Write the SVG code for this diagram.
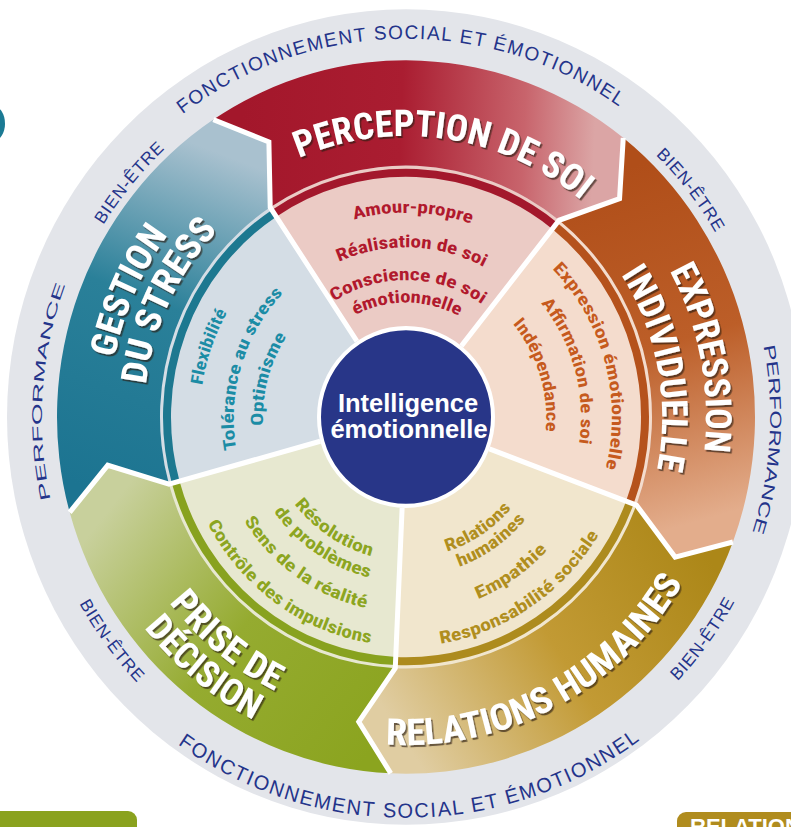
<svg xmlns="http://www.w3.org/2000/svg" width="791" height="827" viewBox="0 0 791 827">
<defs>
<style>
.ring{font-family:'Liberation Sans',Arial,sans-serif;fill:#24348a;}
.ttl{font-family:'Liberation Sans Narrow','Roboto Condensed','DejaVu Sans Condensed','Liberation Sans',sans-serif;font-weight:700;fill:#fff;font-size:36px;filter:url(#sh);}
.wt{font-family:'Liberation Sans Narrow','Roboto Condensed','DejaVu Sans Condensed','Liberation Sans',sans-serif;font-weight:700;font-size:17px;}
.sep{fill:none;stroke:#fff;stroke-width:5;stroke-linejoin:miter;}
.stripe{fill:none;stroke-width:8;}
</style>
<filter id="sh" x="-10%" y="-30%" width="130%" height="170%"><feDropShadow dx="1.6" dy="2" stdDeviation="0.6" flood-color="#2a1a10" flood-opacity="0.65"/></filter>
<linearGradient id="gT" gradientUnits="userSpaceOnUse" x1="-289.1" y1="80.2" x2="-165.6" y2="-250.2"><stop offset="0" stop-color="#1c7491"/><stop offset="0.55" stop-color="#2a8099"/><stop offset="1" stop-color="#a9c1cf"/></linearGradient>
<linearGradient id="gR" gradientUnits="userSpaceOnUse" x1="-165.6" y1="-250.2" x2="186.8" y2="-234.8"><stop offset="0" stop-color="#a3172b"/><stop offset="0.45" stop-color="#aa1d31"/><stop offset="0.8" stop-color="#c8646c"/><stop offset="1" stop-color="#dba5a5"/></linearGradient>
<linearGradient id="gO" gradientUnits="userSpaceOnUse" x1="186.8" y1="-234.8" x2="281" y2="105"><stop offset="0" stop-color="#b04e19"/><stop offset="0.5" stop-color="#bc5e28"/><stop offset="1" stop-color="#e3ad8c"/></linearGradient>
<linearGradient id="gG" gradientUnits="userSpaceOnUse" x1="281" y1="105" x2="-13.1" y2="299.7"><stop offset="0" stop-color="#ac8718"/><stop offset="0.5" stop-color="#c29a34"/><stop offset="1" stop-color="#e0cda2"/></linearGradient>
<linearGradient id="gV" gradientUnits="userSpaceOnUse" x1="-13.1" y1="299.7" x2="-289.1" y2="80.2"><stop offset="0" stop-color="#8ba41f"/><stop offset="0.5" stop-color="#95ab30"/><stop offset="1" stop-color="#c8d09c"/></linearGradient>
<path id="p1" d="M6.46 369.94A370 370 0 1 1 -6.46 -369.94A370 370 0 1 1 6.46 369.94"/>
<path id="p2" d="M274.30 226.92A356 356 0 1 1 -274.30 -226.92A356 356 0 1 1 274.30 226.92"/>
<path id="p3" d="M-282.11 220.41A358 358 0 1 1 282.11 -220.41A358 358 0 1 1 -282.11 220.41"/>
<path id="p4" d="M363.11 25.39A364 364 0 1 1 -363.11 -25.39A364 364 0 1 1 363.11 25.39"/>
<path id="p5" d="M-363.32 -22.22A364 364 0 1 1 363.32 22.22A364 364 0 1 1 -363.32 -22.22"/>
<path id="p6" d="M-3.42 -391.98A392 392 0 1 0 3.42 391.98A392 392 0 1 0 -3.42 -391.98"/>
<path id="p7" d="M300.25 -222.99A374 374 0 1 0 -300.25 222.99A374 374 0 1 0 300.25 -222.99"/>
<path id="p8" d="M-302.61 -221.48A375 375 0 1 0 302.61 221.48A375 375 0 1 0 -302.61 -221.48"/>
<path id="p9" d="M-39.70 272.12A275 275 0 1 1 39.70 -272.12A275 275 0 1 1 -39.70 272.12"/>
<path id="p10" d="M-294.49 57.24A300 300 0 1 1 294.49 -57.24A300 300 0 1 1 -294.49 57.24"/>
<path id="p11" d="M-251.55 47.52A256 256 0 1 1 251.55 -47.52A256 256 0 1 1 -251.55 47.52"/>
<path id="p12" d="M271.32 120.80A297 297 0 1 1 -271.32 -120.80A297 297 0 1 1 271.32 120.80"/>
<path id="p13" d="M236.48 112.79A262 262 0 1 1 -236.48 -112.79A262 262 0 1 1 236.48 112.79"/>
<path id="p14" d="M188.75 -230.60A298 298 0 1 0 -188.75 230.60A298 298 0 1 0 188.75 -230.60"/>
<path id="p15" d="M211.81 -256.95A333 333 0 1 0 -211.81 256.95A333 333 0 1 0 211.81 -256.95"/>
<path id="p16" d="M-150.70 -283.43A321 321 0 1 0 150.70 283.43A321 321 0 1 0 -150.70 -283.43"/>
<path id="p17" d="M-6.98 199.88A200 200 0 1 1 6.98 -199.88A200 200 0 1 1 -6.98 199.88"/>
<path id="p18" d="M-5.79 165.90A166 166 0 1 1 5.79 -165.90A166 166 0 1 1 -5.79 165.90"/>
<path id="p19" d="M-2.34 133.98A134 134 0 1 1 2.34 -133.98A134 134 0 1 1 -2.34 133.98"/>
<path id="p20" d="M-0.98 112.00A112 112 0 1 1 0.98 -112.00A112 112 0 1 1 -0.98 112.00"/>
<path id="p21" d="M-198.70 54.36A206 206 0 1 1 198.70 -54.36A206 206 0 1 1 -198.70 54.36"/>
<path id="p22" d="M-168.64 46.77A175 175 0 1 1 168.64 -46.77A175 175 0 1 1 -168.64 46.77"/>
<path id="p23" d="M-133.59 41.87A140 140 0 1 1 133.59 -41.87A140 140 0 1 1 -133.59 41.87"/>
<path id="p24" d="M194.54 67.75A206 206 0 1 1 -194.54 -67.75A206 206 0 1 1 194.54 67.75"/>
<path id="p25" d="M164.48 50.29A172 172 0 1 1 -164.48 -50.29A172 172 0 1 1 164.48 50.29"/>
<path id="p26" d="M138.13 37.01A143 143 0 1 1 -138.13 -37.01A143 143 0 1 1 138.13 37.01"/>
<path id="p27" d="M77.27 -116.74A140 140 0 1 0 -77.27 116.74A140 140 0 1 0 77.27 -116.74"/>
<path id="p28" d="M90.27 -133.31A161 161 0 1 0 -90.27 133.31A161 161 0 1 0 90.27 -133.31"/>
<path id="p29" d="M109.55 -156.46A191 191 0 1 0 -109.55 156.46A191 191 0 1 0 109.55 -156.46"/>
<path id="p30" d="M130.71 -181.91A224 224 0 1 0 -130.71 181.91A224 224 0 1 0 130.71 -181.91"/>
<path id="p31" d="M-76.17 -115.08A138 138 0 1 0 76.17 115.08A138 138 0 1 0 -76.17 -115.08"/>
<path id="p32" d="M-89.48 -127.79A156 156 0 1 0 89.48 127.79A156 156 0 1 0 -89.48 -127.79"/>
<path id="p33" d="M-109.30 -157.85A192 192 0 1 0 109.30 157.85A192 192 0 1 0 -109.30 -157.85"/>
<path id="p34" d="M-125.26 -185.70A224 224 0 1 0 125.26 185.70A224 224 0 1 0 -125.26 -185.70"/>
</defs>
<rect width="791" height="827" fill="#fff"/>
<g id="corner-marks">
<ellipse cx="-6" cy="123.5" rx="11" ry="17" fill="#1b7a94"/>
<rect x="-12" y="811" width="149" height="40" rx="9" fill="#8aa21e"/>
<rect x="677" y="812" width="130" height="40" rx="9" fill="#b08c1e"/>
<text x="690" y="834" font-family="'Liberation Sans',Arial,sans-serif" font-weight="700" font-size="22" fill="#fff">RELATION</text>
</g>
<g id="wheel" transform="translate(406 417) scale(1 1.022)">
<g id="ring">
<circle r="399" fill="#e3e5ea"/>
<text class="ring" font-size="19"><textPath href="#p1" startOffset="50%" text-anchor="middle" textLength="466">FONCTIONNEMENT SOCIAL ET ÉMOTIONNEL</textPath></text>
<text class="ring" font-size="20"><textPath href="#p6" startOffset="50%" text-anchor="middle" textLength="493">FONCTIONNEMENT SOCIAL ET ÉMOTIONNEL</textPath></text>
<text class="ring" font-size="17"><textPath href="#p2" startOffset="50%" text-anchor="middle" textLength="97">BIEN-ÊTRE</textPath></text>
<text class="ring" font-size="17"><textPath href="#p3" startOffset="50%" text-anchor="middle" textLength="97">BIEN-ÊTRE</textPath></text>
<text class="ring" font-size="17"><textPath href="#p7" startOffset="50%" text-anchor="middle" textLength="97">BIEN-ÊTRE</textPath></text>
<text class="ring" font-size="17"><textPath href="#p8" startOffset="50%" text-anchor="middle" textLength="97">BIEN-ÊTRE</textPath></text>
<text class="ring" font-size="14"><textPath href="#p4" startOffset="50%" text-anchor="middle" textLength="214" lengthAdjust="spacingAndGlyphs">PERFORMANCE</textPath></text>
<text class="ring" font-size="16"><textPath href="#p5" startOffset="50%" text-anchor="middle" textLength="185" lengthAdjust="spacingAndGlyphs">PERFORMANCE</textPath></text>
</g>
<g id="gestion-du-stress">
<path d="M0 0L-237.05 65.74A246 246 0 0 1 -135.78 -205.14Z" fill="#d4dde5"/>
<path class="stripe" stroke="#1d7890" d="M-230.31 63.87A239 239 0 0 1 -131.91 -199.30"/>
<path fill="url(#gT)" d="M-336.31 93.27A349 349 0 0 1 -192.63 -291.03L-137.10 -269.09L-135.78 -205.14A246 246 0 0 0 -237.05 65.74L-298.28 47.24Z"/>
<text class="ttl"><textPath href="#p12" startOffset="50%" text-anchor="middle" textLength="133" lengthAdjust="spacingAndGlyphs">GESTION</textPath></text>
<text class="ttl"><textPath href="#p13" startOffset="50%" text-anchor="middle" textLength="170" lengthAdjust="spacingAndGlyphs">DU STRESS</textPath></text>
<g class="wt" fill="#1b8ca5">
<text><textPath href="#p24" startOffset="50%" text-anchor="middle" textLength="76" lengthAdjust="spacingAndGlyphs">Flexibilité</textPath></text>
<text><textPath href="#p25" startOffset="50%" text-anchor="middle" textLength="166" lengthAdjust="spacingAndGlyphs">Tolérance au stress</textPath></text>
<text><textPath href="#p26" startOffset="50%" text-anchor="middle" textLength="92" lengthAdjust="spacingAndGlyphs">Optimisme</textPath></text>
</g>
</g>
<g id="perception-de-soi">
<path d="M0 0L-135.78 -205.14A246 246 0 0 1 153.14 -192.52Z" fill="#ebcbc5"/>
<path class="stripe" stroke="#a3182c" d="M-131.91 -199.30A239 239 0 0 1 148.78 -187.04"/>
<path fill="url(#gR)" d="M-192.63 -291.03A349 349 0 0 1 217.26 -273.13L213.55 -213.55L153.14 -192.52A246 246 0 0 0 -135.78 -205.14L-137.10 -269.09Z"/>
<text class="ttl" font-size="35"><textPath href="#p9" startOffset="50%" text-anchor="middle" textLength="300" lengthAdjust="spacingAndGlyphs">PERCEPTION DE SOI</textPath></text>
<g class="wt" fill="#b1192d">
<text><textPath href="#p17" startOffset="50%" text-anchor="middle" textLength="119" lengthAdjust="spacingAndGlyphs">Amour-propre</textPath></text>
<text><textPath href="#p18" startOffset="50%" text-anchor="middle" textLength="150" lengthAdjust="spacingAndGlyphs">Réalisation de soi</textPath></text>
<text><textPath href="#p19" startOffset="50%" text-anchor="middle" textLength="157" lengthAdjust="spacingAndGlyphs">Conscience de soi</textPath></text>
<text><textPath href="#p20" startOffset="50%" text-anchor="middle" textLength="108" lengthAdjust="spacingAndGlyphs">émotionnelle</textPath></text>
</g>
</g>
<g id="expression-individuelle">
<path d="M0 0L153.14 -192.52A246 246 0 0 1 230.42 86.15Z" fill="#f4dccd"/>
<path class="stripe" stroke="#b5521c" d="M148.78 -187.04A239 239 0 0 1 223.86 83.70"/>
<path fill="url(#gO)" d="M217.26 -273.13A349 349 0 0 1 326.90 122.22L269.09 137.10L230.42 86.15A246 246 0 0 0 153.14 -192.52L213.55 -213.55Z"/>
<text class="ttl"><textPath href="#p10" startOffset="50%" text-anchor="middle" textLength="183" lengthAdjust="spacingAndGlyphs">EXPRESSION</textPath></text>
<text class="ttl"><textPath href="#p11" startOffset="50%" text-anchor="middle" textLength="199" lengthAdjust="spacingAndGlyphs">INDIVIDUELLE</textPath></text>
<g class="wt" fill="#c65a1d">
<text><textPath href="#p21" startOffset="50%" text-anchor="middle" textLength="212" lengthAdjust="spacingAndGlyphs">Expression émotionnelle</textPath></text>
<text><textPath href="#p22" startOffset="50%" text-anchor="middle" textLength="147" lengthAdjust="spacingAndGlyphs">Affirmation de soi</textPath></text>
<text><textPath href="#p23" startOffset="50%" text-anchor="middle" textLength="113" lengthAdjust="spacingAndGlyphs">Indépendance</textPath></text>
</g>
</g>
<g id="relations-humaines">
<path d="M0 0L230.42 86.15A246 246 0 0 1 -10.73 245.77Z" fill="#f1e6cd"/>
<path class="stripe" stroke="#ad8b1e" d="M223.86 83.70A239 239 0 0 1 -10.43 238.77"/>
<path fill="url(#gG)" d="M326.90 122.22A349 349 0 0 1 -15.22 348.67L-47.24 298.28L-10.73 245.77A246 246 0 0 0 230.42 86.15L269.09 137.10Z"/>
<text class="ttl"><textPath href="#p16" startOffset="50%" text-anchor="middle" textLength="354" lengthAdjust="spacingAndGlyphs">RELATIONS HUMAINES</textPath></text>
<g class="wt" fill="#b08e1e">
<text><textPath href="#p31" startOffset="50%" text-anchor="middle" textLength="78" lengthAdjust="spacingAndGlyphs">Relations</textPath></text>
<text><textPath href="#p32" startOffset="50%" text-anchor="middle" textLength="82" lengthAdjust="spacingAndGlyphs">humaines</textPath></text>
<text><textPath href="#p33" startOffset="50%" text-anchor="middle" textLength="85" lengthAdjust="spacingAndGlyphs">Empathie</textPath></text>
<text><textPath href="#p34" startOffset="50%" text-anchor="middle" textLength="197" lengthAdjust="spacingAndGlyphs">Responsabilité sociale</textPath></text>
</g>
</g>
<g id="prise-de-decision">
<path d="M0 0L-10.73 245.77A246 246 0 0 1 -237.05 65.74Z" fill="#e7e8d0"/>
<path class="stripe" stroke="#88a21f" d="M-10.43 238.77A239 239 0 0 1 -230.31 63.87"/>
<path fill="url(#gV)" d="M-15.22 348.67A349 349 0 0 1 -336.31 93.27L-298.28 47.24L-237.05 65.74A246 246 0 0 0 -10.73 245.77L-47.24 298.28Z"/>
<text class="ttl"><textPath href="#p14" startOffset="50%" text-anchor="middle" textLength="138" lengthAdjust="spacingAndGlyphs">PRISE DE</textPath></text>
<text class="ttl"><textPath href="#p15" startOffset="50%" text-anchor="middle" textLength="143" lengthAdjust="spacingAndGlyphs">DÉCISION</textPath></text>
<g class="wt" fill="#8ca521">
<text><textPath href="#p27" startOffset="50%" text-anchor="middle" textLength="94" lengthAdjust="spacingAndGlyphs">Résolution</textPath></text>
<text><textPath href="#p28" startOffset="50%" text-anchor="middle" textLength="118" lengthAdjust="spacingAndGlyphs">de problèmes</textPath></text>
<text><textPath href="#p29" startOffset="50%" text-anchor="middle" textLength="153" lengthAdjust="spacingAndGlyphs">Sens de la réalité</textPath></text>
<text><textPath href="#p30" startOffset="50%" text-anchor="middle" textLength="208" lengthAdjust="spacingAndGlyphs">Contrôle des impulsions</textPath></text>
</g>
</g>
<g id="separators">
<polyline class="sep" points="-336.31,93.27 -298.28,47.24 -237.05,65.74 -85.76,23.78"/>
<polyline class="sep" points="-192.63,-291.03 -137.10,-269.09 -135.78,-205.14 -49.12,-74.22"/>
<polyline class="sep" points="217.26,-273.13 213.55,-213.55 153.14,-192.52 55.40,-69.65"/>
<polyline class="sep" points="326.90,122.22 269.09,137.10 230.42,86.15 83.36,31.17"/>
<polyline class="sep" points="-15.22,348.67 -47.24,298.28 -10.73,245.77 -3.88,88.92"/>
</g>
<g id="intelligence-emotionnelle">
<circle r="87" fill="#283688" stroke="#fff" stroke-width="4"/>
<text x="2" y="-4.9" text-anchor="middle" font-family="'Liberation Sans',Arial,sans-serif" font-weight="700" font-size="25.5" fill="#fff">Intelligence</text>
<text x="3" y="20.5" text-anchor="middle" font-family="'Liberation Sans',Arial,sans-serif" font-weight="700" font-size="25.5" fill="#fff">émotionnelle</text>
</g>
</g>
</svg>
